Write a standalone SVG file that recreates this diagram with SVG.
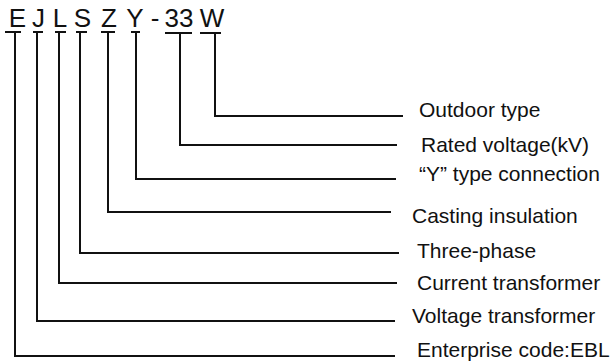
<svg xmlns="http://www.w3.org/2000/svg" width="611" height="362" viewBox="0 0 611 362">
<style>
.code{font-family:"Liberation Sans",Arial,sans-serif;font-size:26px;fill:#111;text-anchor:middle}
.lbl{font-family:"Liberation Sans",Arial,sans-serif;font-size:21px;fill:#111}
.ln{stroke:#111;stroke-width:2;fill:none}
</style>
<rect width="611" height="362" fill="#fff"/>
<g id="code">
<text class="code" x="17.5" y="27">E</text>
<text class="code" x="38.5" y="27">J</text>
<text class="code" x="60" y="27">L</text>
<text class="code" x="82.5" y="27">S</text>
<text class="code" x="109" y="27">Z</text>
<text class="code" x="135" y="27">Y</text>
<text class="code" x="155" y="27">-</text>
<text class="code" x="179" y="27">33</text>
<text class="code" x="212" y="27">W</text>
</g>
<g id="connectors" class="ln">
<path d="M5 32H21 M15 32V356H395"/>
<path d="M33 32H43 M37 32V321H395"/>
<path d="M55 32H66 M59 32V283H397"/>
<path d="M76 32H87 M80 32V253H399"/>
<path d="M101 32H115 M108 32V212H391"/>
<path d="M131 32H140 M136 32V179H396"/>
<path d="M165 33H192 M180 33V145H397"/>
<path d="M200 33H221 M215 33V116H403"/>
</g>
<g id="labels">
<text class="lbl" x="419" y="117">Outdoor type</text>
<text class="lbl" x="421" y="152">Rated voltage(kV)</text>
<text class="lbl" x="419" y="181">“Y” type connection</text>
<text class="lbl" x="412" y="223">Casting insulation</text>
<text class="lbl" x="417" y="258">Three-phase</text>
<text class="lbl" x="417" y="290">Current transformer</text>
<text class="lbl" x="412" y="323">Voltage transformer</text>
<text class="lbl" x="417" y="357">Enterprise code:EBL</text>
</g>
</svg>
